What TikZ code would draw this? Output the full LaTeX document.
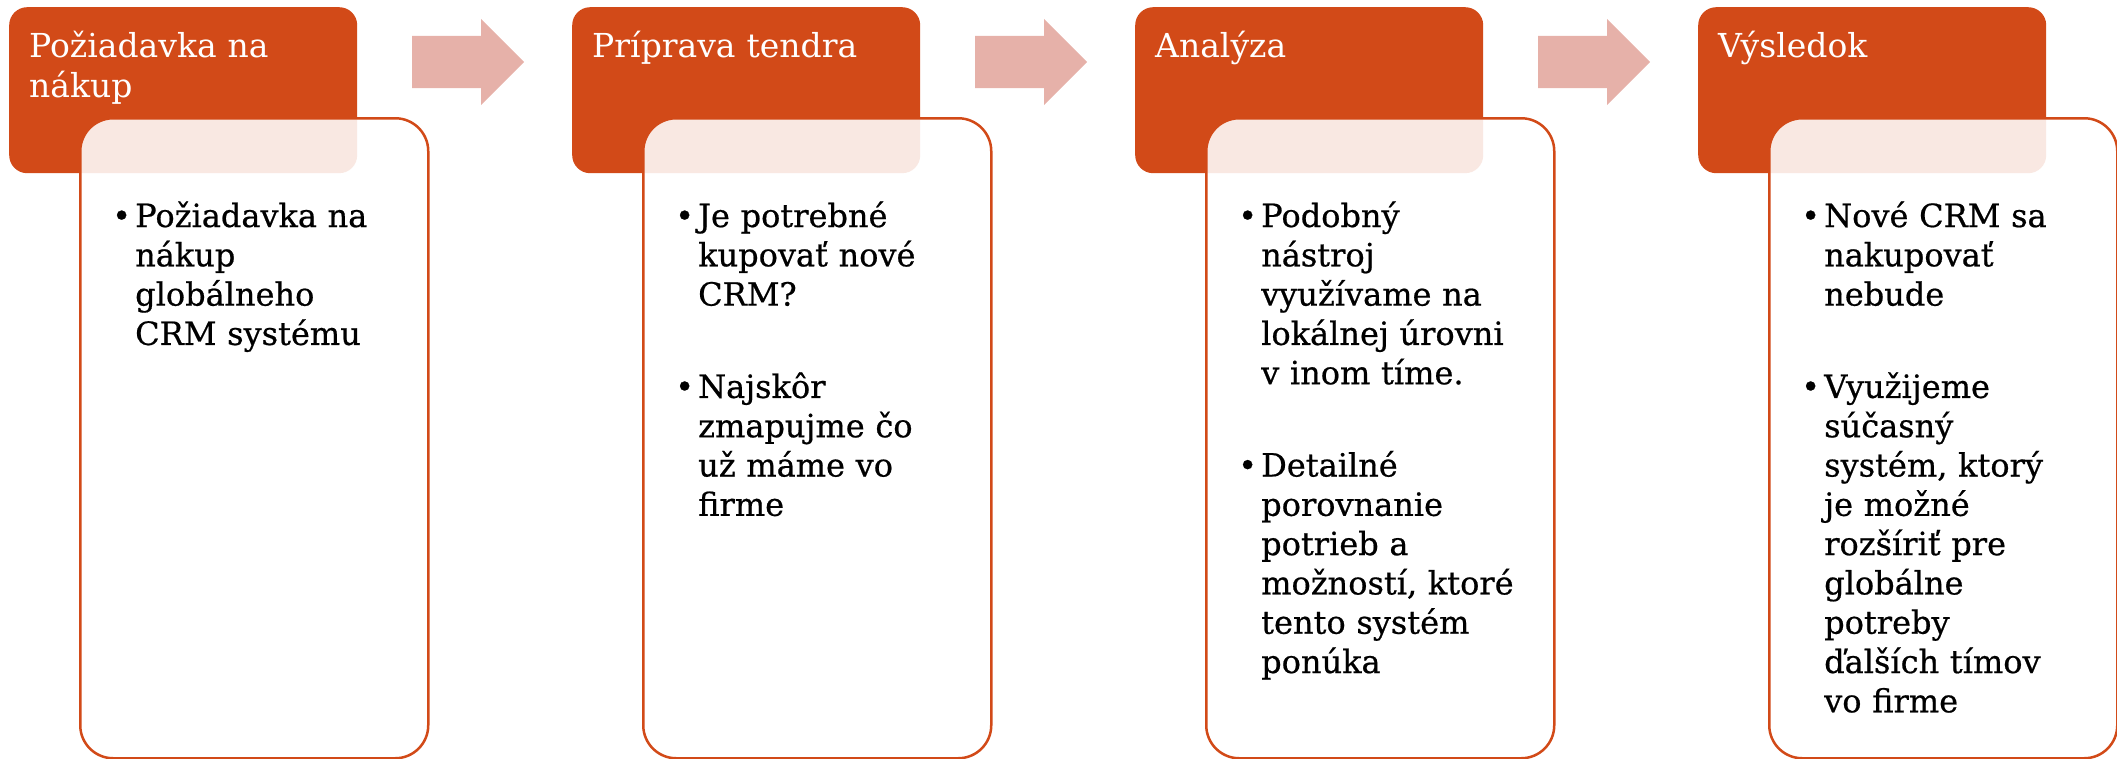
\documentclass[tikz,border=0pt]{standalone}
\usepackage{fontspec}
\setmainfont{DejaVu Serif}
\newfontfamily\bodyfont{DejaVu Serif}[FakeBold=0.6]
\usetikzlibrary{shapes.arrows}
\definecolor{headorange}{HTML}{D24A18}
\definecolor{arrowpink}{HTML}{E6B1A9}
\newcommand{\firstitem}{\noindent\llap{\makebox[23pt][l]{\textbullet}}}
\newcommand{\bulletitem}{\par\vspace{53pt}\firstitem}

\begin{document}
\begin{tikzpicture}[x=1pt,y=-1pt]
  \tikzset{headbox/.style={rectangle, rounded corners=18pt, fill=headorange, minimum width=348pt, minimum height=166pt, anchor=north west, inner sep=0pt},
    bodybox/.style={rectangle, rounded corners=33pt, draw=headorange, line width=2.5pt, fill=white, fill opacity=0.88, minimum width=348pt, minimum height=640pt, anchor=north west, inner sep=0pt},
    headtext/.style={anchor=base west, text=white, align=left, text width=320pt, font=\fontsize{33}{40}\selectfont, inner sep=0pt},
    bodytext/.style={anchor=base west, align=left, text width=300pt, font=\bodyfont\fontsize{32}{39.3}\selectfont, inner sep=0pt},
    steparrow/.style={single arrow, fill=arrowpink, text height=26pt, text depth=26pt, minimum height=112pt, minimum width=86pt, single arrow head extend=17pt, anchor=west, inner sep=0pt}}
  \useasboundingbox (0,0) rectangle (2117,758);
  % orange headers
  \node[headbox] (head1) at (9,7) {};
  \node[headbox] (head2) at (572,7) {};
  \node[headbox] (head3) at (1135,7) {};
  \node[headbox] (head4) at (1698,7) {};
  % arrows between the steps
  \node[steparrow] (arr1) at (412,62) {};
  \node[steparrow] (arr2) at (975,62) {};
  \node[steparrow] (arr3) at (1538,62) {};
  % white boxes with the details
  \node[bodybox] (body1) at (79,117) {};
  \node[bodybox] (body2) at (642,117) {};
  \node[bodybox] (body3) at (1205,117) {};
  \node[bodybox] (body4) at (1768,117) {};
  \node[headtext] (title1) at (29,57) {Požiadavka na\\nákup};
  \node[headtext] (title2) at (592,57) {Príprava tendra};
  \node[headtext] (title3) at (1155,57) {Analýza};
  \node[headtext] (title4) at (1718,57) {Výsledok};
  \node[bodytext] (list1) at (135,227) {\firstitem Požiadavka na\\nákup\\globálneho\\CRM systému};
  \node[bodytext] (list2) at (698,227) {\firstitem Je potrebné\\kupovať nové\\CRM?
    \bulletitem Najskôr\\zmapujme čo\\už máme vo\\firme};
  \node[bodytext] (list3) at (1261,227) {\firstitem Podobný\\nástroj\\využívame na\\lokálnej úrovni\\v inom tíme.
    \bulletitem Detailné\\porovnanie\\potrieb a\\možností, ktoré\\tento systém\\ponúka};
  \node[bodytext] (list4) at (1824,227) {\firstitem Nové CRM sa\\nakupovať\\nebude
    \bulletitem Využijeme\\súčasný\\systém, ktorý\\je možné\\rozšíriť pre\\globálne\\potreby\\ďalších tímov\\vo firme};
\end{tikzpicture}
\end{document}
